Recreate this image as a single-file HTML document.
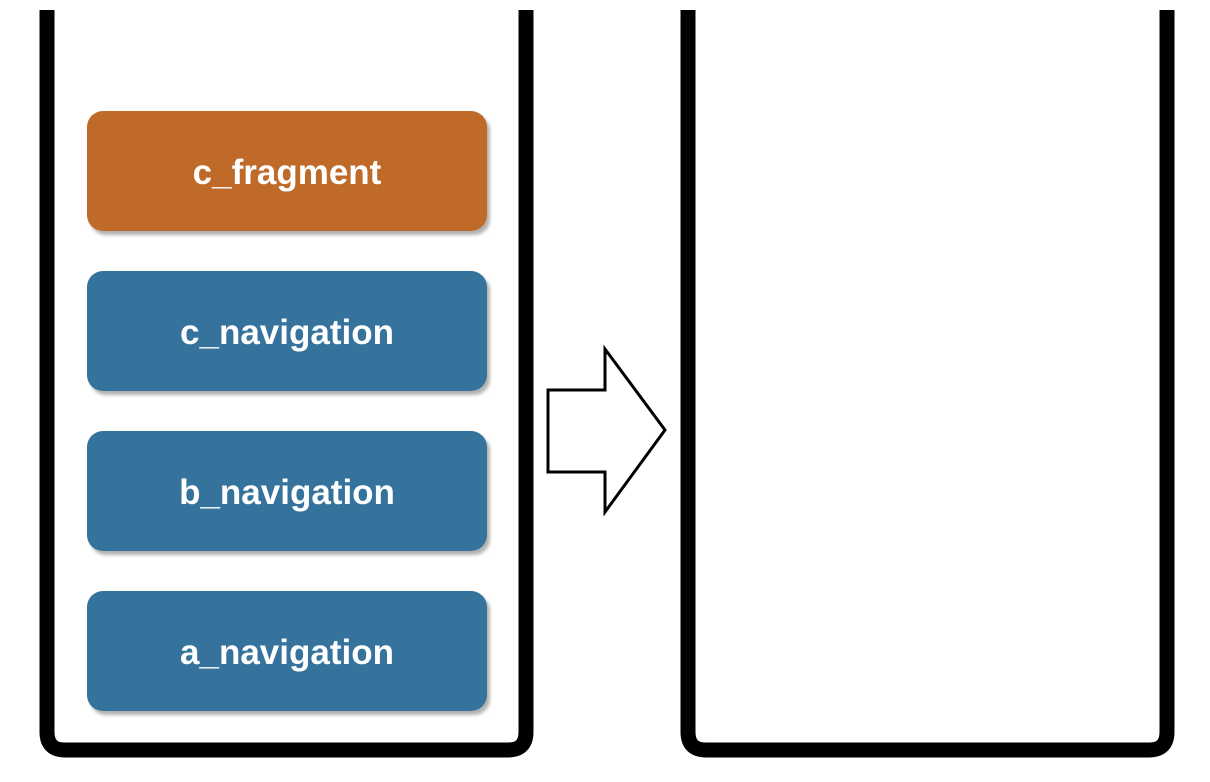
<!DOCTYPE html>
<html><head><meta charset="utf-8"><style>
html,body{margin:0;padding:0;background:#fff;}
svg{display:block;}
text{font-family:"Liberation Sans",Arial,sans-serif;font-weight:bold;font-size:35px;fill:#fff;}
</style></head><body>
<svg width="1210" height="782" viewBox="0 0 1210 782" xmlns="http://www.w3.org/2000/svg">
<defs>
<filter id="sh" x="-5%" y="-5%" width="115%" height="120%">
<feDropShadow dx="3" dy="4" stdDeviation="1.5" flood-color="#000" flood-opacity="0.3"/>
</filter>
</defs>
<path d="M47 10 V732 Q47 750 65 750 H508 Q526 750 526 732 V10" fill="none" stroke="#000" stroke-width="15"/>
<path d="M688 10 V732 Q688 750 706 750 H1149 Q1167 750 1167 732 V10" fill="none" stroke="#000" stroke-width="15"/>
<g filter="url(#sh)">
<rect x="87" y="111" width="400" height="120" rx="16" fill="#c06a2a"/>
<rect x="87" y="271" width="400" height="120" rx="16" fill="#35739c"/>
<rect x="87" y="431" width="400" height="120" rx="16" fill="#35739c"/>
<rect x="87" y="591" width="400" height="120" rx="16" fill="#35739c"/>
</g>
<text x="287" y="184" text-anchor="middle">c_fragment</text>
<text x="287" y="344" text-anchor="middle">c_navigation</text>
<text x="287" y="504" text-anchor="middle">b_navigation</text>
<text x="287" y="664" text-anchor="middle">a_navigation</text>
<polygon points="548,390 605,390 605,349 665,430 605,512 605,472 548,472" fill="#fff" stroke="#000" stroke-width="3" stroke-linejoin="miter"/>
</svg>
</body></html>
